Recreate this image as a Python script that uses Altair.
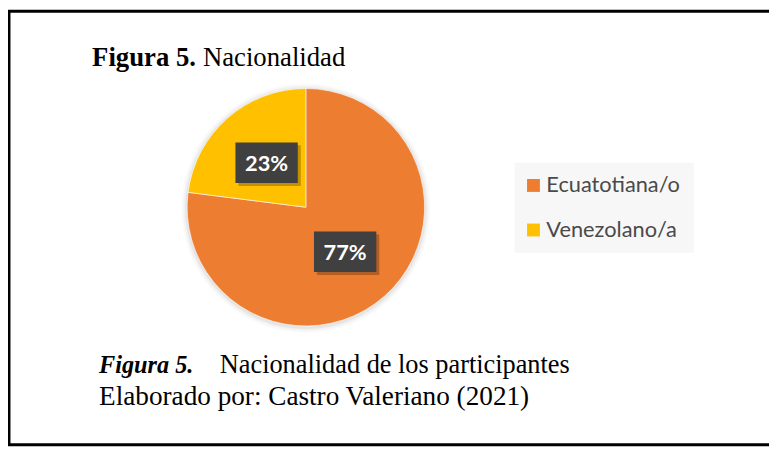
import altair as alt
import pandas as pd
import math

# ---- data ----
categories = ["Ecuatotiana/o", "Venezolano/a"]
values = [77, 23]
labels = ["77%", "23%"]
colors = ["#ED7D31", "#FFC000"]

title_bold = "Figura 5."
title_rest = "Nacionalidad"
caption_bold = "Figura 5."
caption_rest = "Nacionalidad de los participantes"
caption_line2 = "Elaborado por: Castro Valeriano (2021)"

df = pd.DataFrame({"category": categories, "value": values, "label": labels,
                   "order": list(range(len(categories)))})

W, H = 769, 442
CX, CY, R = 301, 199, 120
LR = 60
SERIF = "Liberation Serif"
SANS = "Lato"

one = alt.Data(values=[{}])


def text_layer(txt, x, y, **kw):
    return alt.Chart(one).mark_text(text=txt, align="left", baseline="alphabetic", **kw).encode(
        x=alt.value(x), y=alt.value(y))


def rule(x, x2, y, y2, w, color="black"):
    return alt.Chart(one).mark_rule(color=color, strokeWidth=w).encode(
        x=alt.value(x), x2=alt.value(x2), y=alt.value(y), y2=alt.value(y2))


def halo(r, op):
    return alt.Chart(one).mark_arc(outerRadius=r, theta=0, theta2=2 * math.pi,
                                   color="#000000", opacity=op).encode(
        x=alt.value(CX), y=alt.value(CY + 1))


border = [
    rule(0, W, 1, 1, 3),
    rule(1, 1, 0, 440, 3),
    rule(0, W, 439, 439, 3),
]

shadows = [halo(R + 6, 0.02), halo(R + 4, 0.03), halo(R + 2, 0.05)]

color_scale = alt.Scale(domain=categories, range=colors)
pie = alt.Chart(df).mark_arc(outerRadius=R, stroke="#ffffff", strokeWidth=0.6).encode(
    theta=alt.Theta("value:Q", stack=True),
    color=alt.Color("category:N", scale=color_scale, legend=None),
    order=alt.Order("order:Q"),
    x=alt.value(CX), y=alt.value(CY),
)

pos = alt.Chart(df).transform_joinaggregate(total="sum(value)").transform_window(
    cum="sum(value)", sort=[alt.SortField("order")], frame=[None, 0]
).transform_calculate(
    mid="(datum.cum - datum.value/2)/datum.total*2*PI"
).transform_calculate(
    cx=f"{CX}+{LR}*sin(datum.mid)", cy=f"{CY}-{LR}*cos(datum.mid)"
).transform_calculate(
    bx1="datum.cx-31.5", bx2="datum.cx+31.5", by1="datum.cy-20.5", by2="datum.cy+20.5",
    sx1="datum.cx-28.5", sx2="datum.cx+34.5", sy1="datum.cy-17.5", sy2="datum.cy+23.5",
)

box_shadow = pos.mark_rect(color="#000000", opacity=0.25).encode(
    x=alt.X("sx1:Q", scale=None, axis=None), x2="sx2:Q",
    y=alt.Y("sy1:Q", scale=None, axis=None), y2="sy2:Q")
box = pos.mark_rect(color="#404040").encode(
    x=alt.X("bx1:Q", scale=None, axis=None), x2="bx2:Q",
    y=alt.Y("by1:Q", scale=None, axis=None), y2="by2:Q")
box_text = pos.mark_text(font=SANS, fontWeight="bold", fontSize=22, color="#ffffff",
                         baseline="middle", align="center", dy=1).encode(
    x=alt.X("cx:Q", scale=None, axis=None), y=alt.Y("cy:Q", scale=None, axis=None),
    text="label:N")

# legend
leg_bg = alt.Chart(one).mark_rect(color="#F7F7F7").encode(
    x=alt.value(512), x2=alt.value(693), y=alt.value(154), y2=alt.value(245))
leg = alt.Chart(df).transform_calculate(ly="177 + 45*datum.order")
leg_sq = leg.mark_square(size=169, opacity=1).encode(
    x=alt.value(531), y=alt.Y("ly:Q", scale=None, axis=None),
    color=alt.Color("category:N", scale=color_scale, legend=None))
leg_txt = leg.mark_text(font=SANS, fontSize=22, color="#4a4a4a", align="left",
                        baseline="middle").encode(
    x=alt.value(544), y=alt.Y("ly:Q", scale=None, axis=None), text="category:N")

texts = [
    text_layer(title_bold, 85, 56, font=SERIF, fontSize=27, fontWeight="bold", color="#000000"),
    text_layer(title_rest, 197, 56, font=SERIF, fontSize=27, color="#000000"),
    text_layer(caption_bold, 92, 367, font=SERIF, fontSize=24.5, fontWeight="bold",
               fontStyle="italic", color="#000000"),
    text_layer(caption_rest, 214, 367, font=SERIF, fontSize=26.6, color="#000000"),
    text_layer(caption_line2, 92, 399, font=SERIF, fontSize=27.5, color="#000000"),
]

chart = alt.layer(
    *border, *shadows, pie, box_shadow, box, box_text, leg_bg, leg_sq, leg_txt, *texts
).resolve_scale(x="independent", y="independent", color="shared").properties(
    width=W, height=H, autosize=alt.AutoSizeParams(type="none"), padding=0,
    background="#ffffff",
).configure_view(stroke=None)

chart.save("out.html", embed_options={"renderer": "svg", "actions": False})
